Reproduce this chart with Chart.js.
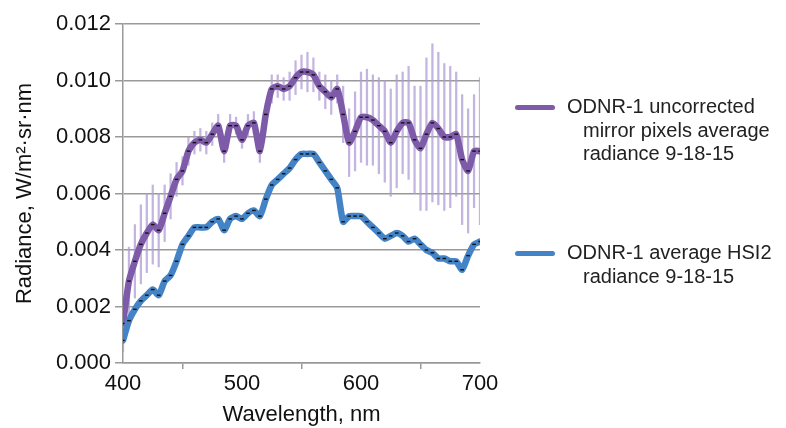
<!DOCTYPE html>
<html>
<head>
<meta charset="utf-8">
<script src="https://cdn.jsdelivr.net/npm/chart.js@4"></script>
<style>
  html, body { margin: 0; padding: 0; background: #fff; }
  #wrap { position: relative; width: 786px; height: 428px; }
  .leg { position: absolute; font-family: "Liberation Sans", Arial, sans-serif; font-size: 20px; color: #222; line-height: 23.5px; white-space: nowrap; }
  .sw { position: absolute; width: 40px; height: 5px; border-radius: 3px; }
  .ind { padding-left: 16px; }
</style>
</head>
<body>
<div id="wrap">
  <canvas id="c" width="786" height="428"></canvas>
  <div class="sw" style="left:515px; top:105px; background:#7d5ba8;"></div>
  <div class="leg" style="left:567px; top:95px;">ODNR-1 uncorrected<div class="ind">mirror pixels average</div><div class="ind">radiance 9-18-15</div></div>
  <div class="sw" style="left:515px; top:251px; background:#4383c6;"></div>
  <div class="leg" style="left:567px; top:241px;">ODNR-1 average HSI2<div class="ind">radiance 9-18-15</div></div>
</div>
<script>
const wavelengths = [400,405,410,415,420,425,430,435,440,445,450,455,460,465,470,475,480,485,490,495,
  500,505,510,515,520,525,530,535,540,545,550,555,560,565,570,575,580,585,590,595,
  600,605,610,615,620,625,630,635,640,645,650,655,660,665,670,675,680,685,690,695,700];

const mirrorRadiance = [0.0014,0.0029,0.0036,0.0042,0.0046,0.0049,0.0047,0.0053,0.0059,0.0065,
  0.0068,0.0075,0.0078,0.0079,0.0078,0.0081,0.0084,0.0075,0.0084,0.0084,
  0.0079,0.0084,0.0085,0.0075,0.0088,0.0097,0.0098,0.0097,0.0098,0.0101,
  0.0103,0.0103,0.0102,0.0098,0.0096,0.0094,0.0097,0.0088,0.0078,0.0082,
  0.0087,0.0087,0.0086,0.0084,0.0082,0.0078,0.0082,0.0085,0.0085,0.0079,
  0.0076,0.0081,0.0085,0.0083,0.0080,0.0080,0.0081,0.0072,0.0068,0.0075,0.0075];

const mirrorError = [0.0010,0.0012,0.0013,0.0014,0.0014,0.0014,0.0013,0.0010,0.0008,0.0006,
  0.0005,0.0005,0.0004,0.0004,0.0004,0.0004,0.0004,0.0004,0.0004,0.0003,
  0.0003,0.0004,0.0004,0.0004,0.0004,0.0005,0.0004,0.0004,0.0005,0.0006,
  0.0006,0.0007,0.0006,0.0005,0.0006,0.0006,0.0005,0.0010,0.0012,0.0014,
  0.0016,0.0017,0.0016,0.0017,0.0018,0.0019,0.0020,0.0018,0.0020,0.0019,
  0.0022,0.0027,0.0028,0.0027,0.0026,0.0025,0.0022,0.0023,0.0022,0.0020,0.0026];

const hsiRadiance = [0.0008,0.0015,0.0019,0.0022,0.0024,0.0026,0.0024,0.0029,0.0031,0.0036,
  0.0042,0.0045,0.0048,0.0048,0.0048,0.0050,0.0051,0.0047,0.0051,0.0052,
  0.0051,0.0053,0.0054,0.0052,0.0058,0.0063,0.0065,0.0067,0.0069,0.0072,
  0.0074,0.0074,0.0074,0.0071,0.0068,0.0065,0.0062,0.0050,0.0052,0.0052,
  0.0052,0.0050,0.0048,0.0046,0.0044,0.0045,0.0046,0.0045,0.0043,0.0044,
  0.0042,0.0040,0.0039,0.0037,0.0037,0.0036,0.0036,0.0033,0.0038,0.0042,0.0043];

const yTicks = [0, 0.002, 0.004, 0.006, 0.008, 0.010, 0.012];

const pts = arr => wavelengths.map((w, i) => ({ x: w, y: arr[i] }));
const errBars = wavelengths.map((w, i) => ({ x: w, y: [mirrorRadiance[i] - mirrorError[i], mirrorRadiance[i] + mirrorError[i]] }));

const font = { family: '"Liberation Sans", Arial, sans-serif', size: 22 };

const lineStyle = {
  borderWidth: 6.5,
  tension: 0.2,
  borderJoinStyle: 'round',
  borderCapStyle: 'round',
  pointStyle: 'line',
  pointRadius: 1.8,
  pointBorderColor: '#111',
  pointBorderWidth: 1.4,
};

new Chart(document.getElementById('c'), {
  type: 'line',
  data: {
    datasets: [
      {
        type: 'bar',
        data: errBars,
        backgroundColor: 'rgba(176,156,214,0.75)',
        barThickness: 1.6,
        order: 3,
      },
      { data: pts(mirrorRadiance), borderColor: '#7d5ba8', order: 2, ...lineStyle },
      { data: pts(hsiRadiance), borderColor: '#4383c6', order: 1, ...lineStyle },
    ],
  },
  options: {
    responsive: false,
    animation: false,
    layout: { padding: { top: 24, right: 306, left: 0, bottom: 0 } },
    plugins: { legend: { display: false }, tooltip: { enabled: false } },
    scales: {
      x: {
        type: 'linear',
        min: 400,
        max: 700,
        offset: false,
        afterFit: s => { s.height = 65; },
        ticks: { stepSize: 100, color: '#111', font, padding: 2 },
        grid: { drawOnChartArea: false, color: '#999', lineWidth: 1.5, tickLength: 6 },
        border: { color: '#999', width: 1.5 },
        title: { display: true, text: 'Wavelength, nm', color: '#111', font, padding: 0 },
      },
      y: {
        min: 0,
        max: 0.012,
        afterFit: s => { s.width = 123; },
        afterBuildTicks: s => { s.ticks = yTicks.map(v => ({ value: v })); },
        ticks: { color: '#111', font, padding: 4, callback: v => v.toFixed(3) },
        grid: { color: '#999', lineWidth: 1.5, tickLength: 8 },
        border: { color: '#999', width: 1.5 },
        title: { display: true, text: 'Radiance, W/m\u00b2\u00b7sr\u00b7nm', color: '#111', font, padding: { top: 12, bottom: 0 } },
      },
    },
  },
});
</script>
</body>
</html>
